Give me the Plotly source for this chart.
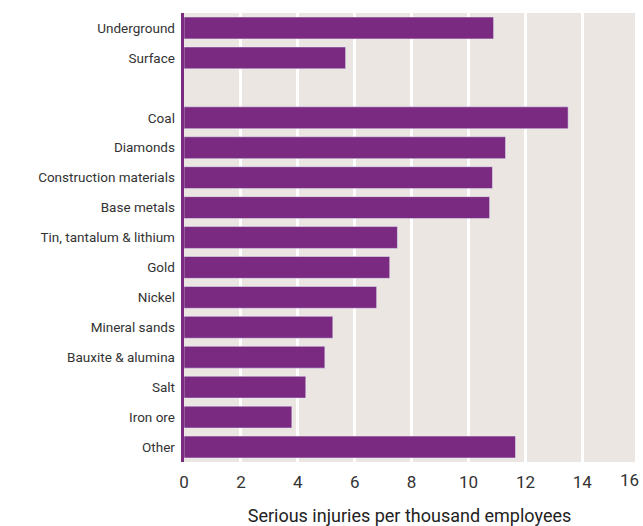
import plotly.graph_objects as go

categories = ["Underground", "Surface", " ", "Coal", "Diamonds", "Construction materials",
              "Base metals", "Tin, tantalum & lithium", "Gold", "Nickel", "Mineral sands",
              "Bauxite & alumina", "Salt", "Iron ore", "Other"]
values = [10.88, 5.68, None, 13.5, 11.3, 10.84, 10.74, 7.5, 7.23, 6.77, 5.23, 4.95, 4.28, 3.79, 11.65]
tick_vals = [0, 2, 4, 6, 8, 10, 12, 14, 16]
x_max = 15.85

fig = go.Figure(go.Bar(y=categories, x=values, orientation="h", marker_color="#7b2a82"))
fig.update_layout(
    width=643, height=526, margin=dict(l=184, r=8, t=13, b=64),
    paper_bgcolor="white", plot_bgcolor="#ebe6e2", bargap=0.27, showlegend=False,
    font=dict(family="Roboto", color="#333"),
    xaxis=dict(range=[0, x_max], tickvals=tick_vals, showgrid=True, gridcolor="white", gridwidth=3,
               zeroline=False, ticks="", automargin=False, ticklabelstandoff=8,
               tickfont=dict(size=17, color="#333"),
               title=dict(text="Serious injuries per thousand employees", font=dict(size=18, color="#222"), standoff=20)),
    yaxis=dict(autorange="reversed", showline=True, linecolor="#7b2a82", linewidth=3, automargin=False,
               ticks="", tickfont=dict(size=13.5, color="#333"), ticksuffix=" "),
)
fig.add_annotation(x=16 / x_max, y=0, xref="paper", yref="paper", text="16", showarrow=False,
                   yanchor="top", yshift=-6, xshift=2, font=dict(size=17, color="#333"))
fig.write_html("out.html", config={"displayModeBar": False})
with open("out.html") as f:
    html = f.read()
html = html.replace("<head>", "<head><style>body{margin:0;overflow:hidden}</style>", 1)
with open("out.html", "w") as f:
    f.write(html)
